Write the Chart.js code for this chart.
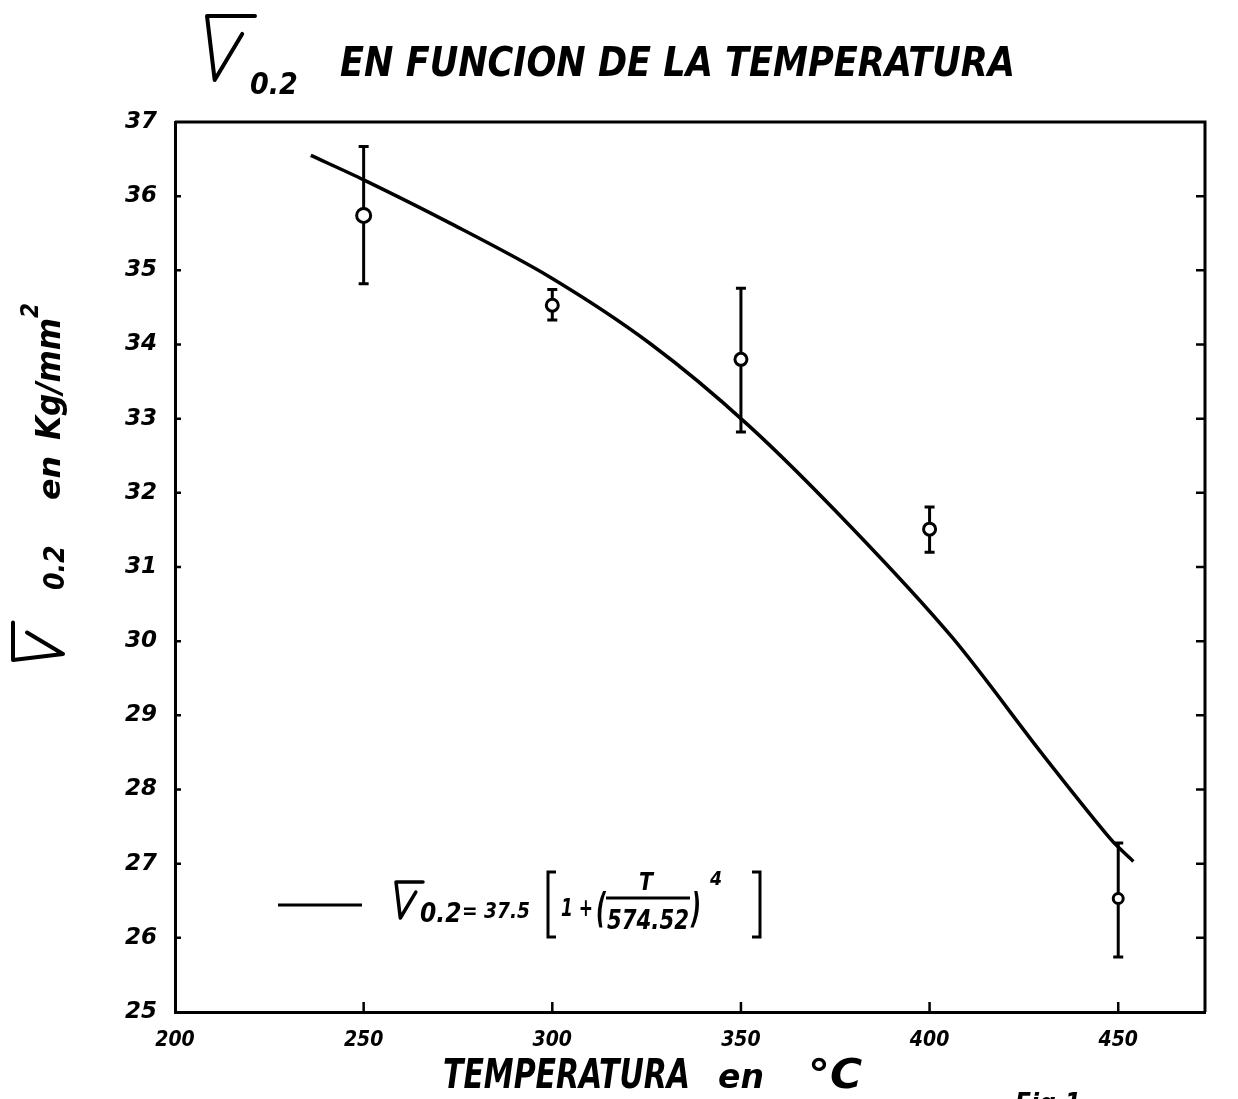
<!DOCTYPE html>
<html>
<head>
<meta charset="utf-8">
<script src="https://cdn.jsdelivr.net/npm/chart.js"></script>
<style>
  html, body { margin: 0; padding: 0; background: #fff; }
  #wrap { width: 1238px; height: 1099px; position: relative; }
</style>
</head>
<body>
<div id="wrap"><canvas id="chart"></canvas></div>
<script>
/** Data */
const curveT = [236, 250, 272, 299, 326, 352, 379, 406, 430, 448, 454];
const curveSigma = [36.55, 36.22, 35.66, 34.92, 34.01, 32.91, 31.55, 30.05, 28.47, 27.33, 27.03];

const tempC = [250, 300, 350, 400, 450];
const sigmaMean = [35.74, 34.53, 33.80, 31.51, 26.53];
const sigmaHigh = [36.67, 34.74, 34.76, 31.81, 27.28];
const sigmaLow = [34.82, 34.33, 32.82, 31.20, 25.74];
const pointSize = [7, 6, 6, 6, 5];

const xTicks = [200, 250, 300, 350, 400, 450];
const yTicks = [25, 26, 27, 28, 29, 30, 31, 32, 33, 34, 35, 36, 37];

const INK = '#000';
const HAND = '"DejaVu Sans Condensed", "DejaVu Sans", sans-serif';

// text squeezed / stretched to a given width
function fitText(ctx, text, x, y, width, size, family) {
  ctx.save();
  ctx.font = `italic bold ${size}px ${family || HAND}`;
  const w = ctx.measureText(text).width;
  ctx.translate(x, y);
  ctx.scale(width / w, 1);
  ctx.fillText(text, 0, 0);
  ctx.restore();
}

function drawText(ctx, text, x, y, size) {
  ctx.font = `italic bold ${size}px ${HAND}`;
  ctx.fillText(text, x, y);
  return ctx.measureText(text).width;
}

// sigma sign as drawn in the original (radical-like hook with overbar)
function drawSigma(ctx, x, y, h, lw) {
  ctx.save();
  ctx.lineWidth = lw;
  ctx.lineCap = 'round';
  ctx.lineJoin = 'round';
  ctx.beginPath();
  ctx.moveTo(x + h * 0.75, y - h);
  ctx.lineTo(x, y - h);
  ctx.lineTo(x + h * 0.12, y);
  ctx.lineTo(x + h * 0.55, y - h * 0.72);
  ctx.stroke();
  ctx.restore();
}

const figurePlugin = {
  id: 'figure',
  beforeDatasetsDraw(chart) {
    const { ctx, scales: { x, y } } = chart;
    ctx.save();
    ctx.strokeStyle = INK;
    ctx.lineWidth = 3;
    tempC.forEach((t, i) => {
      const px = x.getPixelForValue(t);
      const top = y.getPixelForValue(sigmaHigh[i]);
      const bot = y.getPixelForValue(sigmaLow[i]);
      ctx.beginPath();
      ctx.moveTo(px, top);
      ctx.lineTo(px, bot);
      ctx.moveTo(px - 5, top);
      ctx.lineTo(px + 5, top);
      ctx.moveTo(px - 5, bot);
      ctx.lineTo(px + 5, bot);
      ctx.stroke();
    });
    ctx.restore();
  },
  afterDraw(chart) {
    const { ctx, chartArea: a, scales: { x, y } } = chart;
    ctx.save();
    ctx.fillStyle = INK;
    ctx.strokeStyle = INK;

    // frame: top and right sides
    ctx.lineWidth = 3;
    ctx.beginPath();
    ctx.moveTo(a.left, a.top);
    ctx.lineTo(a.right, a.top);
    ctx.lineTo(a.right, a.bottom);
    ctx.stroke();

    // inward ticks
    ctx.lineWidth = 2.5;
    ctx.beginPath();
    yTicks.slice(1, -1).forEach(v => {
      const py = y.getPixelForValue(v);
      ctx.moveTo(a.left, py); ctx.lineTo(a.left + 6, py);
      ctx.moveTo(a.right, py); ctx.lineTo(a.right - 9, py);
    });
    xTicks.slice(1).forEach(v => {
      const px = x.getPixelForValue(v);
      ctx.moveTo(px, a.bottom); ctx.lineTo(px, a.bottom - 10);
    });
    ctx.stroke();

    // title
    drawSigma(ctx, 207, 80, 64, 4);
    drawText(ctx, '0.2', 250, 94, 30);
    fitText(ctx, 'EN FUNCION DE LA TEMPERATURA', 340, 76, 675, 40);

    // x axis title
    fitText(ctx, 'TEMPERATURA', 443, 1088, 247, 40);
    fitText(ctx, 'en', 718, 1088, 46, 34);
    fitText(ctx, '°C', 808, 1088, 54, 40);

    // fig. number, cut by the page edge
    fitText(ctx, 'Fig.1', 1015, 1112, 66, 26);

    // y axis title, rotated
    ctx.save();
    ctx.translate(60, 660);
    ctx.rotate(-Math.PI / 2);
    ctx.save();
    ctx.translate(0, 3);
    drawSigma(ctx, 0, 0, 50, 4);
    ctx.restore();
    drawText(ctx, '0.2', 70, 4, 28);
    fitText(ctx, 'en', 160, 0, 44, 30);
    fitText(ctx, 'Kg/mm', 220, 0, 122, 34);
    drawText(ctx, '2', 342, -22, 24);
    ctx.restore();

    // legend with the fitted law
    ctx.lineWidth = 3;
    ctx.beginPath();
    ctx.moveTo(278, 905);
    ctx.lineTo(362, 905);
    ctx.stroke();
    drawSigma(ctx, 396, 918, 36, 3.5);
    drawText(ctx, '0.2', 420, 922, 26);
    fitText(ctx, '= 37.5', 462, 918, 68, 22);
    ctx.lineWidth = 3;
    ctx.beginPath();
    // [ bracket
    ctx.moveTo(556, 872); ctx.lineTo(548, 872); ctx.lineTo(548, 937); ctx.lineTo(556, 937);
    // ] bracket
    ctx.moveTo(752, 872); ctx.lineTo(760, 872); ctx.lineTo(760, 937); ctx.lineTo(752, 937);
    // fraction bar
    ctx.moveTo(606, 898); ctx.lineTo(690, 898);
    ctx.stroke();
    fitText(ctx, '1 +', 561, 916, 32, 24);
    fitText(ctx, '(', 596, 922, 10, 40);
    fitText(ctx, 'T', 639, 890, 14, 24);
    fitText(ctx, '574.52', 607, 929, 82, 26);
    fitText(ctx, ')', 691, 922, 10, 40);
    fitText(ctx, '4', 710, 885, 12, 20);
    ctx.restore();
  }
};

new Chart(document.getElementById('chart'), {
  type: 'scatter',
  data: {
    datasets: [{
      type: 'line',
      label: 'ajuste',
      data: curveT.map((t, i) => ({ x: t, y: curveSigma[i] })),
      borderColor: INK,
      borderWidth: 3.5,
      pointRadius: 0,
      fill: false,
      tension: 0.3
    }, {
      label: 'medidas',
      data: tempC.map((t, i) => ({ x: t, y: sigmaMean[i] })),
      pointRadius: pointSize,
      pointBorderWidth: 3,
      borderColor: INK,
      backgroundColor: '#fff'
    }]
  },
  options: {
    responsive: true,
    maintainAspectRatio: false,
    animation: false,
    layout: { padding: { left: 0, top: 122, right: 33, bottom: 0 } },
    plugins: {
      legend: { display: false },
      title: { display: false },
      tooltip: { enabled: false }
    },
    scales: {
      x: {
        type: 'linear',
        min: 200,
        max: 473,
        afterFit: s => { s.height = 87; },
        afterBuildTicks: s => { s.ticks = xTicks.map(v => ({ value: v })); },
        grid: { display: false },
        border: { display: true, color: INK, width: 3 },
        ticks: {
          color: INK,
          padding: 8,
          maxRotation: 0,
          font: { family: HAND, size: 21, style: 'italic', weight: 'bold' }
        }
      },
      y: {
        min: 25,
        max: 37,
        afterFit: s => { s.width = 175; },
        afterBuildTicks: s => { s.ticks = yTicks.map(v => ({ value: v })); },
        grid: { display: false },
        border: { display: true, color: INK, width: 3 },
        ticks: {
          color: INK,
          padding: 10,
          font: { family: '"DejaVu Sans", sans-serif', size: 23, style: 'italic', weight: 'bold' }
        }
      }
    }
  },
  plugins: [figurePlugin]
});
</script>
</body>
</html>
